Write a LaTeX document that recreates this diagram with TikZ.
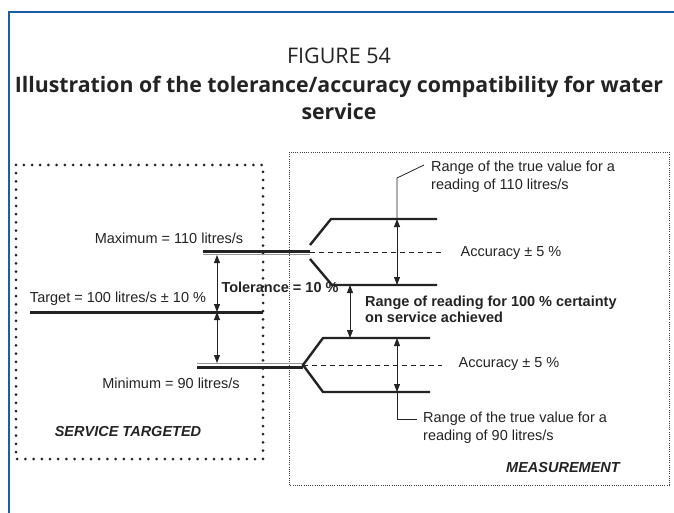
\documentclass[tikz,border=0pt]{standalone}
\usepackage{fontspec}
\setmainfont{Liberation Sans}
\newfontfamily\titlefont{Open Sans}
\usetikzlibrary{arrows.meta, positioning}
\definecolor{faoblue}{RGB}{25,95,165}
\definecolor{shadegray}{RGB}{150,150,150}
\definecolor{inkgray}{RGB}{35,35,35}

\begin{document}
\begin{tikzpicture}[
    x=1pt, y=-1pt,
    % Styles
    txt/.style={
        font=\fontsize{14.5}{18}\selectfont,
        inner sep=0pt, align=left, text=inkgray
    },
    boldtxt/.style={
        txt, font=\fontsize{14.5}{16}\selectfont\bfseries
    },
    tag/.style={
        txt, font=\fontsize{14.5}{18}\selectfont\bfseries\itshape
    },
    level/.style={line width=3pt, inkgray},
    shade/.style={line width=1pt, shadegray},
    branch/.style={line width=2.4pt, inkgray, line join=miter},
    accuracy/.style={line width=0.8pt, inkgray, dash pattern=on 5pt off 4pt},
    spanarrow/.style={
        {Triangle[length=8pt,width=6pt]}-{Triangle[length=8pt,width=6pt]},
        line width=0.8pt, inkgray
    },
    leader/.style={line width=0.8pt, inkgray},
    bigdots/.style={line width=3pt, inkgray, line cap=round, dash pattern=on 0pt off 8.2pt},
    finedots/.style={line width=0.8pt, black!75, dash pattern=on 0.8pt off 1.4pt}
]
\useasboundingbox (0,0) rectangle (674,513);

% Frame and title
\draw[faoblue, line width=2pt] (9,513) -- (9,12) -- (674,12);
\node[font=\titlefont\fontsize{21.5}{24}\selectfont, text=inkgray, inner sep=0pt] (fig) at (339,56) {FIGURE 54};
\node[font=\titlefont\bfseries\fontsize{21.3}{27}\selectfont, text=inkgray, inner sep=0pt,
      align=center, below=12pt of fig] (title)
    {Illustration of the tolerance/accuracy compatibility for water\\service};

% The two zones
\draw[bigdots] (16,165) rectangle (263,459);
\draw[finedots] (289,152) rectangle (669,485);
\node[tag] (svc) at (128,432) {SERVICE TARGETED};
\node[tag] (meas) at (563,468) {MEASUREMENT};

% Service targeted
\coordinate (maxL) at (203,251);   \coordinate (maxR) at (310,251);
\coordinate (maxLs) at (203,254.5); \coordinate (maxRs) at (310,254.5);
\coordinate (tgtL) at (30,312);    \coordinate (tgtR) at (263,312);
\coordinate (minL) at (197,367);   \coordinate (minR) at (303,367);
\coordinate (minLs) at (197,363.5); \coordinate (minRs) at (303,363.5);
\draw[level] (maxL) -- (maxR);
\draw[shade] (maxLs) -- (maxRs);
\draw[level] (tgtL) -- (tgtR);
\draw[level] (minL) -- (minR);
\draw[shade] (minLs) -- (minRs);
\node[txt] (maxlbl) at (169,238) {Maximum = 110 litres/s};
\node[txt] (tgtlbl) at (118,299) {Target = 100 litres/s ± 10 \%};
\node[txt] (minlbl) at (171,383) {Minimum = 90 litres/s};

% Tolerance
\coordinate (tolTop) at (217,255);
\coordinate (tolMid) at (217,312);
\coordinate (tolBot) at (217,363);
\draw[spanarrow] (tolTop) -- (tolMid);
\draw[spanarrow] (tolMid) -- (tolBot);
\node[boldtxt] (tol) at (280,287) {Tolerance = 10 \%};

% Measurement of 110 litres/s
\coordinate (hiFork1) at (310,245); \coordinate (hiUp) at (331,219); \coordinate (hiUpEnd) at (437,219);
\coordinate (hiFork2) at (310,259); \coordinate (hiLo) at (332,285); \coordinate (hiLoEnd) at (437,285);
\coordinate (hiDash) at (442,252);
\draw[branch] (hiFork1) -- (hiUp) -- (hiUpEnd);
\draw[branch] (hiFork2) -- (hiLo) -- (hiLoEnd);
\draw[accuracy] (maxR |- hiDash) -- (hiDash);
\coordinate (hiArrTop) at (397,219); \coordinate (hiArrBot) at (397,285);
\draw[spanarrow] (hiArrTop) -- (hiArrBot);
\node[txt] (acc1) at (511,253) {Accuracy ± 5 \%};
\node[txt, anchor=west] (true1) at (431,176.5) {Range of the true value for a\\reading of 110 litres/s};
\coordinate (hiBend) at (397,178); \coordinate (hiLead) at (424,165);
\draw[leader] (hiArrTop) -- (hiBend) -- (hiLead);

% Range for 100 % certainty
\coordinate (certTop) at (350,285); \coordinate (certBot) at (350,338);
\draw[spanarrow] (certTop) -- (certBot);
\node[boldtxt, anchor=west] (certain) at (365,309.5) {Range of reading for 100 \% certainty\\on service achieved};

% Measurement of 90 litres/s
\coordinate (loFork) at (303,365);
\coordinate (loUp) at (323,338); \coordinate (loUpEnd) at (430,338);
\coordinate (loLo) at (323,392); \coordinate (loLoEnd) at (430,392);
\coordinate (loDash) at (442,365);
\draw[branch] (loUpEnd) -- (loUp) -- (loFork) -- (loLo) -- (loLoEnd);
\draw[accuracy] (loFork) -- (loDash);
\coordinate (loArrTop) at (397,338); \coordinate (loArrBot) at (397,392);
\draw[spanarrow] (loArrTop) -- (loArrBot);
\node[txt] (acc2) at (509,364) {Accuracy ± 5 \%};
\node[txt, anchor=west] (true2) at (423,428) {Range of the true value for a\\reading of 90 litres/s};
\coordinate (loBend) at (397,419); \coordinate (loLead) at (417,419);
\draw[leader] (loArrBot) -- (loBend) -- (loLead);

\end{tikzpicture}
\end{document}
